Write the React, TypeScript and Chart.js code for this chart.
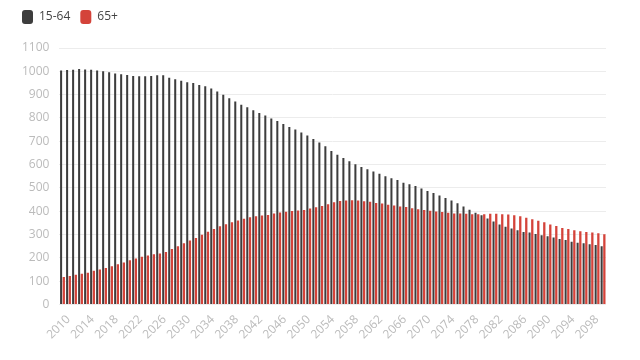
import React, { useEffect, useRef } from "react";
import { Chart, registerables } from "chart.js";

Chart.register(...registerables);

const years: string[] = [];
for (let y = 2010; y <= 2100; y++) years.push(String(y));

const working: number[] = [
  1003, 1006, 1007, 1010, 1008, 1007, 1004, 1000, 996, 991,
  987, 984, 980, 979, 979, 980, 983, 983, 972, 966,
  959, 953, 950, 941, 936, 926, 913, 899, 884, 870,
  857, 846, 833, 821, 810, 798, 787, 774, 761, 750,
  737, 725, 710, 695, 678, 658, 642, 628, 614, 601,
  590, 580, 570, 560, 550, 541, 534, 522, 516, 508,
  497, 487, 478, 467, 457, 446, 434, 420, 406, 393,
  383, 369, 356, 343, 333, 326, 318, 311, 308, 302,
  297, 292, 287, 281, 276, 269, 265, 262, 258, 255,
  249,
];

const elderly: number[] = [
  118, 122, 127, 131, 136, 144, 150, 156, 164, 172,
  180, 189, 197, 204, 210, 215, 218, 225, 238, 250,
  262, 274, 285, 299, 312, 324, 335, 344, 352, 360,
  367, 374, 378, 381, 384, 390, 394, 398, 401, 403,
  405, 411, 417, 422, 430, 438, 444, 446, 447, 446,
  443, 440, 435, 433, 428, 424, 420, 418, 413, 408,
  405, 402, 399, 396, 393, 390, 390, 389, 387, 387,
  387, 389, 389, 387, 386, 382, 378, 372, 365, 359,
  352, 343, 336, 328, 323, 318, 314, 311, 308, 305,
  301,
];

const seriesNames = ["15-64", "65+"];
const darkColor = "#3d3d3d";
const redColor = "#d4433a";

const legendGap = {
  id: "legendGap",
  beforeInit(chart: any) {
    const legend = chart.legend;
    if (!legend) return;
    const orig = legend.fit;
    legend.fit = function () {
      orig.call(this);
      this.height += 14;
    };
  },
};

export default function App() {
  const ref = useRef<HTMLCanvasElement | null>(null);

  useEffect(() => {
    if (!ref.current) return;
    const chart = new Chart(ref.current, {
      type: "bar",
      data: {
        labels: years,
        datasets: [
          {
            label: seriesNames[0],
            data: working,
            backgroundColor: darkColor,
            borderWidth: 0,
            categoryPercentage: 0.9,
            barPercentage: 0.75,
          },
          {
            label: seriesNames[1],
            data: elderly,
            backgroundColor: redColor,
            borderWidth: 0,
            categoryPercentage: 0.9,
            barPercentage: 0.85,
          },
        ],
      },
      options: {
        animation: false,
        responsive: false,
        maintainAspectRatio: false,
        layout: { padding: { left: 12, right: 34, top: 0, bottom: 18 } },
        plugins: {
          tooltip: { enabled: false },
          legend: {
            position: "top",
            align: "start",
            labels: {
              boxWidth: 11,
              boxHeight: 14,
              useBorderRadius: true,
              borderRadius: 3,
              padding: 10,
              color: "#444",
              font: { family: "'Open Sans', sans-serif", size: 12 },
            },
          },
        },
        scales: {
          x: {
            grid: { display: false },
            border: { display: false },
            ticks: {
              autoSkip: false,
              maxRotation: 45,
              minRotation: 45,
              padding: 0,
              labelOffset: 6,
              color: "#bbb",
              font: { family: "'Open Sans', sans-serif", size: 12 },
              callback: function (_v: any, i: number) {
                return i % 4 === 0 ? years[i] : "";
              },
            },
          },
          y: {
            min: 0,
            max: 1100,
            border: { display: false },
            grid: { color: "#ececec", drawTicks: false },
            ticks: {
              stepSize: 100,
              padding: 10,
              color: "#bbb",
              font: { family: "'Open Sans', sans-serif", size: 12 },
              callback: function (v: any) {
                return String(v);
              },
            },
          },
        },
      },
      plugins: [legendGap],
    });
    return () => chart.destroy();
  }, []);

  return (
    <div style={{ position: "fixed", left: 0, top: 0, width: 640, height: 360, background: "#fff" }}>
      <canvas ref={ref} width={640} height={360} style={{ width: 640, height: 360 }} />
    </div>
  );
}
